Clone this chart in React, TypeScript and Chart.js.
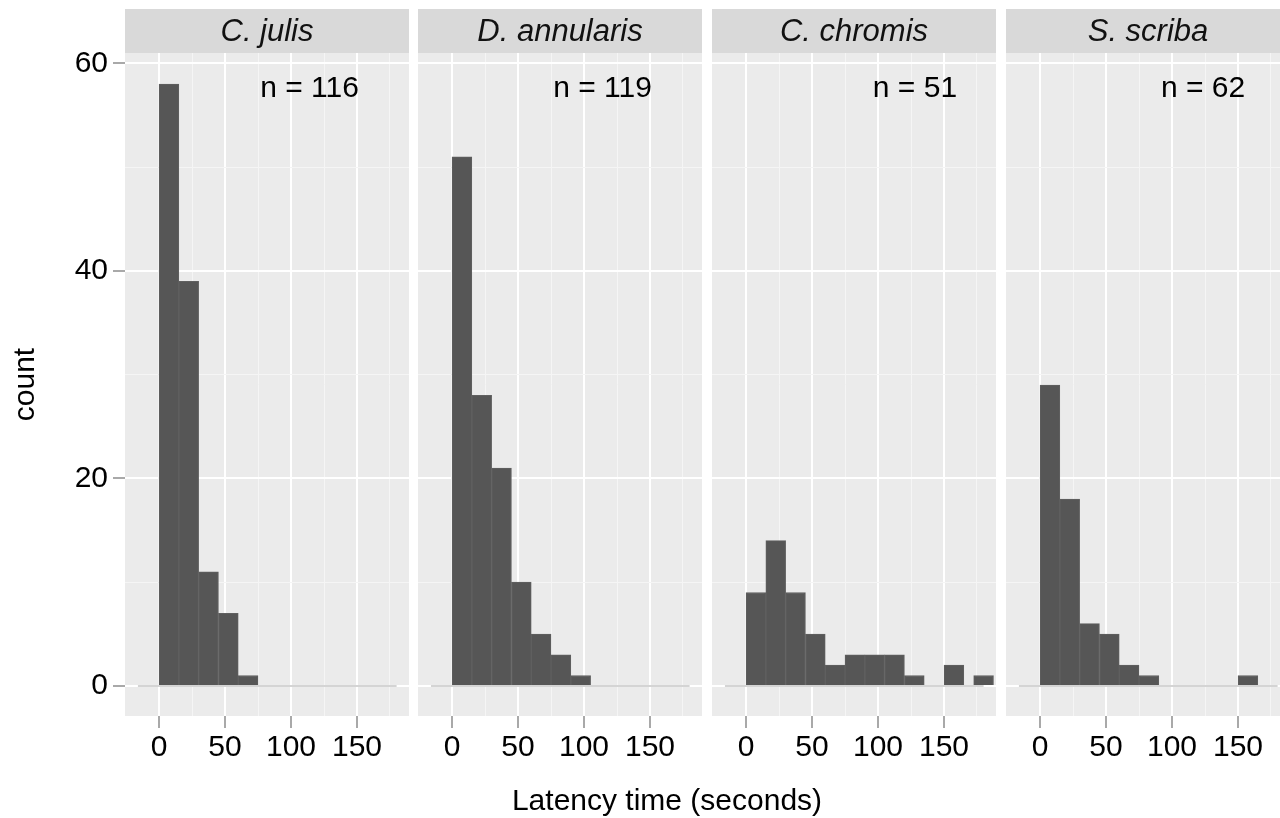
import React, { useEffect, useRef } from "react";
import { Chart, registerables } from "chart.js";

Chart.register(...registerables);

// ---------- data ----------
const species = ["C. julis", "D. annularis", "C. chromis", "S. scriba"];
const sampleSizes = [116, 119, 51, 62];

const julisBins = [7.5, 22.5, 37.5, 52.5, 67.5];
const julisCounts = [58, 39, 11, 7, 1];

const annularisBins = [7.5, 22.5, 37.5, 52.5, 67.5, 82.5, 97.5];
const annularisCounts = [51, 28, 21, 10, 5, 3, 1];

const chromisBins = [7.5, 22.5, 37.5, 52.5, 67.5, 82.5, 97.5, 112.5, 127.5, 157.5, 180];
const chromisCounts = [9, 14, 9, 5, 2, 3, 3, 3, 1, 2, 1];

const scribaBins = [7.5, 22.5, 37.5, 52.5, 67.5, 82.5, 157.5];
const scribaCounts = [29, 18, 6, 5, 2, 1, 1];

const histRange = [-16, 180];

const xTickValues = [0, 25, 50, 75, 100, 125, 150, 175];
const xLabelValues = [0, 50, 100, 150];
const yTickValues = [0, 10, 20, 30, 40, 50, 60];
const yLabelValues = [0, 20, 40, 60];

const nLabelX = [114, 114, 128, 123.5];
const nLabelY = 57.6;

const xTitle = "Latency time (seconds)";
const yTitle = "count";

// ---------- layout / style ----------
const FONT = "'Liberation Sans', Arial, Helvetica, sans-serif";
const X_MIN = -25.8;
const X_MAX = 189.4;
const Y_MIN = -2.9;
const Y_MAX = 61.0;
const PANEL_LEFT = [125, 418, 712, 1006];
const PANEL_W = 284;
const STRIP_TOP = 9;
const AREA_TOP = 53;
const AREA_BOTTOM = 716;
const H = 818;
const TEXT_SIZE = 30;
const STRIP_SIZE = 31;

const panelData = [
  { centers: julisBins, counts: julisCounts },
  { centers: annularisBins, counts: annularisCounts },
  { centers: chromisBins, counts: chromisCounts },
  { centers: scribaBins, counts: scribaCounts },
];

function decorPlugin(idx: number) {
  return {
    id: "decor" + idx,
    beforeDraw(chart: any) {
      const { ctx, chartArea: a } = chart;
      ctx.save();
      ctx.fillStyle = "#EBEBEB";
      ctx.fillRect(a.left, a.top, a.right - a.left, a.bottom - a.top);
      ctx.fillStyle = "#D9D9D9";
      ctx.fillRect(a.left, STRIP_TOP, a.right - a.left, a.top - STRIP_TOP);
      ctx.fillStyle = "#111";
      ctx.font = `italic ${STRIP_SIZE}px ${FONT}`;
      ctx.textAlign = "center";
      ctx.textBaseline = "middle";
      ctx.fillText(species[idx], (a.left + a.right) / 2, (STRIP_TOP + a.top) / 2 + 1);
      ctx.restore();
    },
    afterDatasetsDraw(chart: any) {
      const { ctx, scales } = chart;
      ctx.save();
      ctx.fillStyle = "#000";
      ctx.font = `${TEXT_SIZE}px ${FONT}`;
      ctx.textAlign = "center";
      ctx.textBaseline = "middle";
      ctx.fillText(
        `n = ${sampleSizes[idx]}`,
        scales.x.getPixelForValue(nLabelX[idx]),
        scales.y.getPixelForValue(nLabelY)
      );
      ctx.restore();
    },
  };
}

function Panel({ idx }: { idx: number }) {
  const ref = useRef<HTMLCanvasElement>(null);
  useEffect(() => {
    const first = idx === 0;
    const { centers, counts } = panelData[idx];
    const chart = new Chart(ref.current as HTMLCanvasElement, {
      type: "bar",
      data: {
        datasets: [
          {
            type: "line",
            data: histRange.map((x) => ({ x, y: 0 })),
            borderColor: "#C6C6C6",
            borderWidth: 1.5,
            pointRadius: 0,
            order: 2,
          } as any,
          {
            type: "bar",
            data: centers.map((x, i) => ({ x, y: counts[i] })),
            backgroundColor: "#565656",
            borderColor: "#606060",
            borderWidth: 1,
            barPercentage: 1,
            categoryPercentage: 1,
            order: 1,
          } as any,
        ],
      },
      options: {
        animation: false,
        responsive: true,
        maintainAspectRatio: false,
        layout: { padding: { top: AREA_TOP, left: 0, right: 0, bottom: 0 } },
        plugins: {
          legend: { display: false },
          tooltip: { enabled: false },
          title: { display: false },
        },
        scales: {
          x: {
            type: "linear",
            min: X_MIN,
            max: X_MAX,
            offset: false,
            afterBuildTicks: (s: any) => {
              s.ticks = xTickValues.map((v) => ({ value: v }));
            },
            afterFit: (s: any) => {
              s.height = H - AREA_BOTTOM;
            },
            border: { display: false },
            grid: {
              offset: false,
              drawTicks: true,
              tickLength: 12,
              tickWidth: 1.5,
              color: (c: any) => (c.tick && xLabelValues.includes(c.tick.value) ? "#FFFFFF" : "#F5F5F5"),
              lineWidth: (c: any) => (c.tick && xLabelValues.includes(c.tick.value) ? 2 : 1),
              tickColor: (c: any) => (c.tick && xLabelValues.includes(c.tick.value) ? "#8C8C8C" : "rgba(0,0,0,0)"),
            },
            ticks: {
              autoSkip: false,
              maxRotation: 0,
              padding: 2,
              color: "#000",
              font: { family: FONT, size: TEXT_SIZE },
              callback: (v: any) => (xLabelValues.includes(Number(v)) ? String(v) : ""),
            },
          },
          y: {
            type: "linear",
            min: Y_MIN,
            max: Y_MAX,
            afterBuildTicks: (s: any) => {
              s.ticks = yTickValues.map((v) => ({ value: v }));
            },
            afterFit: (s: any) => {
              s.width = first ? PANEL_LEFT[0] : 0;
            },
            border: { display: false },
            grid: {
              drawTicks: first,
              tickLength: 12,
              tickWidth: 1.5,
              color: (c: any) => (c.tick && yLabelValues.includes(c.tick.value) ? "#FFFFFF" : "#F5F5F5"),
              lineWidth: (c: any) => (c.tick && yLabelValues.includes(c.tick.value) ? 2 : 1),
              tickColor: (c: any) => (c.tick && yLabelValues.includes(c.tick.value) ? "#8C8C8C" : "rgba(0,0,0,0)"),
            },
            ticks: {
              display: first,
              autoSkip: false,
              padding: 5,
              color: "#000",
              font: { family: FONT, size: TEXT_SIZE },
              callback: (v: any) => (yLabelValues.includes(Number(v)) ? String(v) : ""),
            },
            title: {
              display: first,
              text: yTitle,
              color: "#000",
              font: { family: FONT, size: TEXT_SIZE },
              padding: { top: 8, bottom: 0 },
            },
          },
        },
      } as any,
      plugins: [decorPlugin(idx)],
    });
    return () => chart.destroy();
  }, [idx]);

  const first = idx === 0;
  const left = first ? 0 : PANEL_LEFT[idx];
  const width = first ? PANEL_LEFT[0] + PANEL_W : PANEL_W;
  return (
    <div style={{ position: "absolute", left, top: 0, width, height: H }}>
      <canvas ref={ref} />
    </div>
  );
}

export default function App() {
  return (
    <div
      style={{
        position: "absolute",
        left: 0,
        top: 0,
        width: 1280,
        height: H,
        overflow: "hidden",
        background: "#FFFFFF",
        fontFamily: FONT,
      }}
    >
      {species.map((_, i) => (
        <Panel key={i} idx={i} />
      ))}
      <div
        style={{
          position: "absolute",
          left: 467,
          width: 400,
          top: 782,
          height: 36,
          lineHeight: "36px",
          fontSize: TEXT_SIZE,
          textAlign: "center",
          color: "#000",
        }}
      >
        {xTitle}
      </div>
    </div>
  );
}
